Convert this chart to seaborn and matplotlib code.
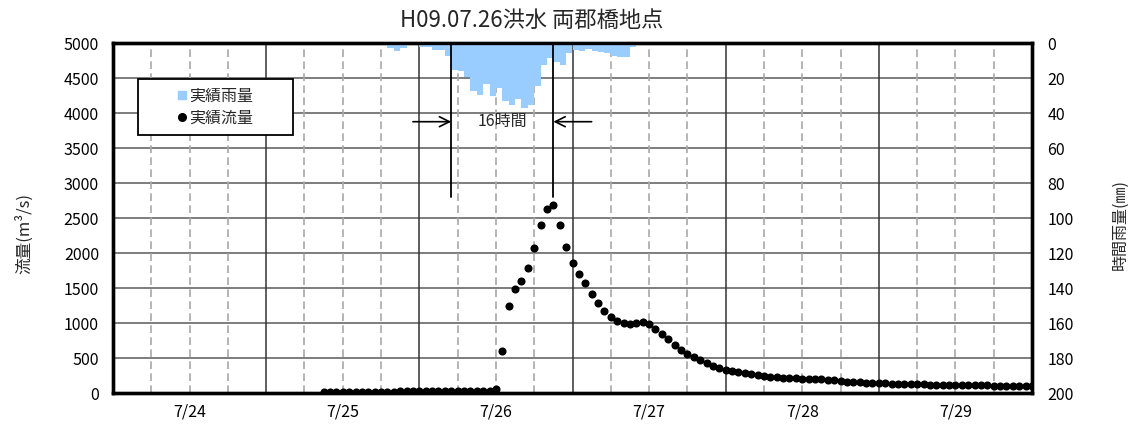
import matplotlib
matplotlib.use("Agg")
import matplotlib.pyplot as plt
import seaborn as sns
import pandas as pd
from matplotlib.lines import Line2D
from matplotlib.patches import Rectangle

# ---------------- data ----------------
# hours counted from 7/24 0:00
flow_hours = list(range(33, 145))
flow_values = [
    22, 22, 23, 23, 23, 24, 24, 24, 25, 25, 25, 25, 26, 26, 26, 27, 27, 27, 28, 28,
    28, 29, 29, 30, 30,              # 33-57
    30, 35, 57, 604, 1250, 1490, 1610, 1790, 2075, 2405, 2635, 2690,   # 58-69
    2405, 2085, 1865, 1700, 1580, 1425, 1290, 1175, 1092, 1037, 1000,  # 70-80
    988, 1006, 1025, 988, 920, 847, 771, 690, 614, 560, 525, 478, 438,  # 81-93
    397, 363, 340, 320, 305, 290, 271, 257, 245, 237, 232, 225, 219,    # 94-106
    214, 209, 205, 203, 200, 195, 187, 178, 168, 160, 157, 153, 148,    # 107-119
    146, 143, 138, 134, 132, 130, 128, 127, 125, 124, 122, 121, 120,    # 120-132
    119, 118, 117, 115, 113, 111, 108, 106, 104, 102, 101, 100,         # 133-144
]
rain_hours = list(range(38, 86))   # start hour of each hourly bar
rain_values = [
    0.3, 0.3, 0.3, 0.3, 0.5, 2.5, 4.2, 2.8, 1.2, 1.0, 2.3, 2.3,       # 38-49
    3.8, 4.0, 7.3, 15.4, 16.0, 19.0, 27.0, 29.6, 23.0, 30.0, 25.5, 33.2,  # 50-61
    35.5, 32.0, 37.0, 35.0, 24.6, 12.2, 8.4, 10.9, 12.2, 5.5, 3.8, 4.2,   # 62-73
    3.3, 4.6, 5.0, 5.3, 7.4, 7.8, 7.8, 2.3, 0.5, 0.3, 0.3, 0.2,          # 74-85
]
day_labels = ["7/24", "7/25", "7/26", "7/27", "7/28", "7/29"]
flow_ticks = list(range(0, 5001, 500))
rain_ticks = list(range(0, 201, 20))
lag_start, lag_end = 53, 69
title = "H09.07.26洪水 両郡橋地点"

# ---------------- style ----------------
sns.set_theme(style="white")
plt.rcParams['font.family'] = ['Noto Sans CJK JP', 'DejaVu Sans']
RAIN = "#99ccff"
FS = 11.5

fig = plt.figure(figsize=(11.32, 4.30), dpi=100)
ax = fig.add_axes([113 / 1132, 1 - 393.3 / 430, 919 / 1132, 350 / 430])

flow_df = pd.DataFrame({"hour": flow_hours, "flow": flow_values})
sns.scatterplot(data=flow_df, x="hour", y="flow", ax=ax, color="black",
                s=34, linewidth=0, zorder=3, legend=False)

n_hours = 24 * len(day_labels)
ax.set_xlim(0, n_hours)
ax.set_ylim(flow_ticks[0], flow_ticks[-1])
ax.set_yticks(flow_ticks)
ax.set_yticklabels([str(v) for v in flow_ticks])
ax.set_xticks([12 + 24 * i for i in range(len(day_labels))])
ax.set_xticklabels(day_labels)

# grid
for v in flow_ticks[1:-1]:
    ax.axhline(v, color="#5a5a5a", lw=1.1, zorder=1)
for h in range(6, n_hours, 6):
    if h % 24 == 0:
        ax.axvline(h, color="#333333", lw=1.1, zorder=1)
    else:
        ax.axvline(h, color="#a8a8a8", lw=1.2, dashes=(4.6, 2.6), zorder=1)

ax.tick_params(axis="both", length=0, labelsize=FS, colors="black")
ax.tick_params(axis="y", pad=10)
ax.tick_params(axis="x", pad=7)
ax.set_xlabel("")
ax.set_ylabel("流量(m³/s)", fontsize=12)
ax.yaxis.set_label_coords(-0.087, 0.458)

# rain on twin axis
ax2 = ax.twinx()
rain_df = pd.DataFrame({"center": [h + 0.5 for h in rain_hours], "rain": rain_values})
sns.barplot(data=rain_df, x="center", y="rain", ax=ax2, native_scale=True,
            orient="x", color=RAIN, saturation=1, width=1, errorbar=None,
            linewidth=0, zorder=2)
ax2.set_xlim(0, n_hours)
ax2.set_ylim(rain_ticks[-1], rain_ticks[0])
ax2.set_yticks(rain_ticks)
ax2.set_yticklabels([str(v) for v in rain_ticks])
ax2.tick_params(axis="y", length=0, labelsize=FS, pad=11, colors="black")
ax2.tick_params(axis="x", length=0)
ax2.set_xlabel("")
ax2.set_ylabel("時間雨量(㎜)", fontsize=11.5)
ax2.yaxis.set_label_coords(1.087, 0.481)
ax2.grid(False)

for a in (ax, ax2):
    for sp in a.spines.values():
        sp.set_visible(True)
        sp.set_color("black")
        sp.set_linewidth(2.4)

# 16 hour annotation
for h in (lag_start, lag_end):
    ax2.plot([h, h], [2800, 5000], color="black", lw=1.3, transform=ax.transData,
             zorder=5, clip_on=False)
arrow_kw = dict(arrowstyle="->,head_length=0.6,head_width=0.3", color="black",
                lw=1.2, shrinkA=0, shrinkB=0)
ax2.annotate("", xy=(lag_start, 3880), xytext=(lag_start - 6, 3880),
             xycoords=ax.transData, textcoords=ax.transData, arrowprops=arrow_kw)
ax2.annotate("", xy=(lag_end, 3880), xytext=(lag_end + 6, 3880),
             xycoords=ax.transData, textcoords=ax.transData, arrowprops=arrow_kw)
ax2.text((lag_start + lag_end) / 2, 3880, f"{lag_end - lag_start}時間",
         transform=ax.transData, ha="center", va="center", fontsize=FS, zorder=6)

# legend box
box = Rectangle((0.027, 0.738), 0.169, 0.160, transform=ax2.transAxes,
                facecolor="white", edgecolor="black", lw=1.3, zorder=6)
ax2.add_patch(box)
handles = [
    Line2D([], [], marker="s", color=RAIN, linestyle="none", markersize=6),
    Line2D([], [], marker="o", color="black", linestyle="none", markersize=5.5),
]
leg = ax2.legend(handles, ["実績雨量", "実績流量"], loc="center",
                 bbox_to_anchor=(0.027 + 0.0845, 0.818), frameon=False,
                 handlelength=0.6, handletextpad=0.15, labelspacing=0.3,
                 fontsize=FS, borderaxespad=0, borderpad=0)
leg.set_zorder(7)

fig.text(532 / 1132, 1 - 20 / 430, title, ha="center", va="center", fontsize=16)

fig.savefig("out.png", dpi=100)
